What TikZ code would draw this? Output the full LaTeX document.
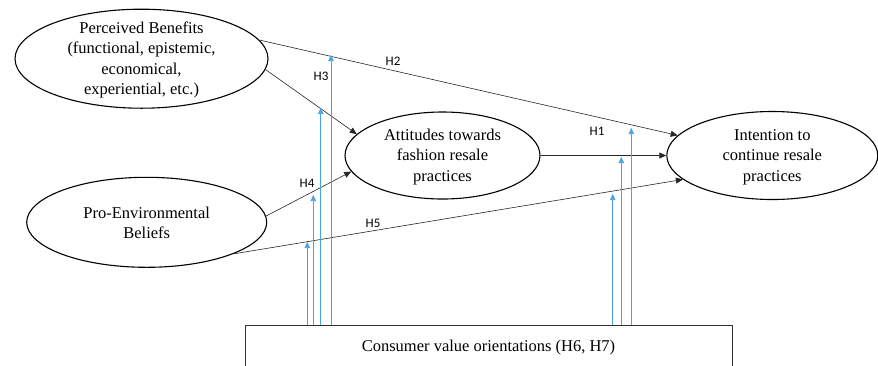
\documentclass[tikz,border=0pt]{standalone}
\usepackage{fontspec}
\setmainfont{Liberation Serif}
\newfontfamily\hfont{Carlito}
\usetikzlibrary{shapes.geometric,arrows.meta}
\definecolor{modblue}{RGB}{70,165,226}

\begin{document}
\begin{tikzpicture}[x=1pt, y=-1pt,
        oval/.style={ellipse, draw, line width=1.1pt, inner sep=0pt},
        txt/.style={align=center, font=\fontsize{16.5}{20.3}\selectfont, inner sep=0pt},
        box/.style={draw=black!80, line width=1pt, inner sep=0pt, font=\fontsize{16.5}{20}\selectfont},
        path/.style={draw=black!85, line width=0.6pt, -{Triangle[length=7pt, width=6pt]}},
        moder/.style={draw=modblue, line width=0.6pt, -{Triangle[length=6pt, width=5.5pt]}},
        hyp/.style={font=\hfont\fontsize{13}{15}\selectfont, inner sep=0pt}]
        \useasboundingbox (0,0) rectangle (878,365);
        \clip (0,0) rectangle (878,365);

        \node[oval, minimum width=253pt, minimum height=99pt] (pb) at (141.5,58.7) {};
        \node[oval, minimum width=240pt, minimum height=90pt] (pe) at (146.7,222.3) {};
        \node[oval, minimum width=195pt, minimum height=87pt] (att) at (442.5,155.5) {};
        \node[oval, minimum width=211pt, minimum height=88pt] (int) at (772.3,155.5) {};
        \node[txt] (pbtext) at (141.5,60) {Perceived Benefits\\(functional, epistemic,\\economical,\\experiential, etc.)};
        \node[txt] (petext) at (146.7,223) {Pro-Environmental\\Beliefs};
        \node[txt] (atttext) at (442.5,157) {Attitudes towards\\fashion resale\\practices};
        \node[txt] (inttext) at (772.3,157) {Intention to\\continue resale\\practices};
        \node[box, minimum width=487pt, minimum height=46pt] (cvo) at (488.5,348) {Consumer value orientations (H6, H7)};

        \draw[path] (pb.-5) -- (att.166);
        \draw[path] (pb.9) -- (int.168);
        \draw[path] (att.east) -- (int.west);
        \draw[path] (pe.3) -- (att.190);
        \draw[path] (pe.-20) -- (int.195);

        \node[hyp] (h1) at (597,131) {H1};
        \node[hyp] (h2) at (393,61) {H2};
        \node[hyp] (h3) at (321,76) {H3};
        \node[hyp] (h4) at (307,183) {H4};
        \node[hyp] (h5) at (373,223) {H5};

        \coordinate (m1) at (307.3,242);
        \coordinate (m2) at (313.3,195);
        \coordinate (m3) at (320.7,108);
        \coordinate (m4) at (331,55);
        \coordinate (m5) at (612.7,194);
        \coordinate (m6) at (621.3,157);
        \coordinate (m7) at (631.3,128);
        \draw[moder] (cvo.north -| m1) -- (m1);
        \draw[moder] (cvo.north -| m2) -- (m2);
        \draw[moder] (cvo.north -| m3) -- (m3);
        \draw[moder] (cvo.north -| m4) -- (m4);
        \draw[moder] (cvo.north -| m5) -- (m5);
        \draw[moder] (cvo.north -| m6) -- (m6);
        \draw[moder] (cvo.north -| m7) -- (m7);
\end{tikzpicture}
\end{document}
